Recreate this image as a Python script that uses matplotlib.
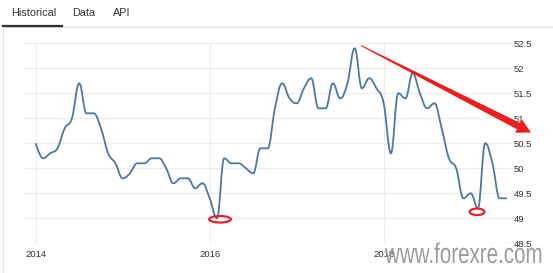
import numpy as np
import matplotlib
matplotlib.use('Agg')
import matplotlib.pyplot as plt
from matplotlib import patheffects
from matplotlib.path import Path
from matplotlib.patches import PathPatch, Ellipse, Polygon
from matplotlib.lines import Line2D
from matplotlib.transforms import Affine2D

plt.rcParams['font.family'] = ['Liberation Sans', 'DejaVu Sans']

# monthly values, Jan 2014 .. Jun 2019
start_year = 2014
pmi = [50.5, 50.2, 50.3, 50.4, 50.8, 51.0, 51.7, 51.1, 51.1, 50.8, 50.3, 50.1,   # 2014
       49.8, 49.9, 50.1, 50.1, 50.2, 50.2, 50.0, 49.7, 49.8, 49.8, 49.6, 49.7,   # 2015
       49.4, 49.0, 50.2, 50.1, 50.1, 50.0, 49.9, 50.4, 50.4, 51.2, 51.7, 51.4,   # 2016
       51.3, 51.6, 51.8, 51.2, 51.2, 51.7, 51.4, 51.7, 52.4, 51.6, 51.8, 51.6,   # 2017
       51.3, 50.3, 51.5, 51.4, 51.9, 51.5, 51.2, 51.3, 50.8, 50.2, 50.0, 49.4,   # 2018
       49.5, 49.2, 50.5, 50.1, 49.4, 49.4]                                       # 2019
year_ticks = [2014, 2016, 2018]
y_ticks = [48.5, 49, 49.5, 50, 50.5, 51, 51.5, 52, 52.5]
low_points = [25, 61]          # months circled in red
tabs = ['Historical', 'Data', 'API']

W, H = 553, 273


def spline_path(xs, ys, smoothing=1.5):
    # bezier spline like highcharts draws it
    n = len(xs)
    denom = smoothing + 1
    left = [(xs[i], ys[i]) for i in range(n)]
    right = [(xs[i], ys[i]) for i in range(n)]
    for i in range(1, n - 1):
        px, py = xs[i], ys[i]
        lx, ly = xs[i - 1], ys[i - 1]
        nx, ny = xs[i + 1], ys[i + 1]
        lcx = (smoothing * px + lx) / denom
        lcy = (smoothing * py + ly) / denom
        rcx = (smoothing * px + nx) / denom
        rcy = (smoothing * py + ny) / denom
        corr = ((rcy - lcy) * (rcx - px)) / (rcx - lcx) + py - rcy
        lcy += corr
        rcy += corr
        if lcy > ly and lcy > py:
            lcy = max(ly, py); rcy = 2 * py - lcy
        elif lcy < ly and lcy < py:
            lcy = min(ly, py); rcy = 2 * py - lcy
        if rcy > ny and rcy > py:
            rcy = max(ny, py); lcy = 2 * py - rcy
        elif rcy < ny and rcy < py:
            rcy = min(ny, py); lcy = 2 * py - rcy
        left[i] = (lcx, lcy)
        right[i] = (rcx, rcy)
    verts = [(xs[0], ys[0])]
    codes = [Path.MOVETO]
    for i in range(1, n):
        verts += [right[i - 1], left[i], (xs[i], ys[i])]
        codes += [Path.CURVE4] * 3
    return Path(verts, codes)


class Stretch(patheffects.AbstractPathEffect):
    # stretch glyphs vertically about the baseline (watermark is a squashed image)
    def __init__(self, sy):
        super().__init__()
        self.sy = sy

    def draw_path(self, renderer, gc, tpath, affine, rgbFace=None):
        x0, y0 = affine.transform((0, 0))
        aff = affine + Affine2D().translate(-x0, -y0).scale(1, self.sy).translate(x0, y0)
        renderer.draw_path(gc, tpath, aff, rgbFace)


x = start_year + np.arange(len(pmi)) / 12.0

fig = plt.figure(figsize=(W / 100, H / 100), dpi=100)
px = Affine2D().scale(1 / W, -1 / H).translate(0, 1) + fig.transFigure   # pixel coords, origin top-left

ax = fig.add_axes([25 / W, 1 - 243.3 / H, 487 / W, 200 / H])
ax.set_xlim(2013.877, 2019.475)
ax.set_ylim(48.5, 52.5)
for s in ax.spines.values():
    s.set_visible(False)
ax.set_yticks(y_ticks)
ax.set_yticklabels(['%g' % v for v in y_ticks])
ax.set_xticks(year_ticks)
ax.set_xticklabels([str(v) for v in year_ticks])
ax.yaxis.tick_right()
ax.tick_params(axis='y', length=0, pad=1.5, labelsize=6.8, labelcolor='#333333')
ax.tick_params(axis='x', length=0, pad=4.5, labelsize=6.8, labelcolor='#333333')
ax.grid(True, color='#ececec', lw=0.8)
ax.set_axisbelow(True)

ax.add_patch(PathPatch(spline_path(list(x), pmi), fill=False, edgecolor='#4a79a6', lw=1.3, zorder=3))

# red circles around the lows
ax.add_patch(Ellipse((x[low_points[0]] + 0.035, pmi[low_points[0]] - 0.02), 0.25, 0.13,
                     fill=False, edgecolor='#e3262b', lw=1.6, zorder=4))
ax.add_patch(Ellipse((x[low_points[1]] - 0.01, pmi[low_points[1]] - 0.07), 0.17, 0.13,
                     fill=False, edgecolor='#e3262b', lw=1.6, zorder=4))

# tapered red arrow
S = np.array([361.0, 45.5])
T = np.array([531.0, 132.5])
u = (T - S) / np.linalg.norm(T - S)
nrm = np.array([-u[1], u[0]])
B = T - u * 14
arrow = [S + nrm * 0.5, B + nrm * 3.5, B + nrm * 7.5, T, B - nrm * 7.5, B - nrm * 3.5, S - nrm * 0.5]
fig.add_artist(Polygon(arrow, closed=True, transform=px, facecolor='#ee1d1d', edgecolor='none', zorder=5))

# tabs header
tab_x = [11, 72, 113]
for t, tx in zip(tabs, tab_x):
    fig.text(tx, 13, t, transform=px, fontsize=7.8, color='#333333', va='center', ha='left')
fig.add_artist(Line2D([3, W], [26.5, 26.5], transform=px, color='#dddddd', lw=0.8))
fig.add_artist(Line2D([3, 62], [26.2, 26.2], transform=px, color='#333333', lw=1.6))
fig.add_artist(Line2D([2.5, 2.5], [27, H], transform=px, color='#e8e8e8', lw=0.8))

# watermark
wm = fig.text(385, 263, 'www.forexre.com', transform=px, fontsize=14.8, color='#9c9c9c',
              va='baseline', ha='left', zorder=10)
wm.set_path_effects([Stretch(1.38)])

fig.savefig('out.png', dpi=100)
